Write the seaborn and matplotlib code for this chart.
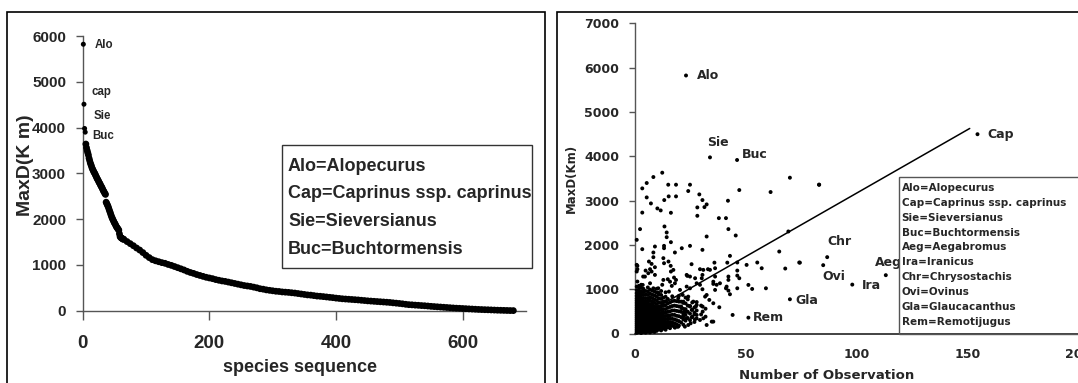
import matplotlib
matplotlib.use("Agg")
import matplotlib.pyplot as plt
from matplotlib.patches import Rectangle
import pandas as pd
import seaborn as sns

# ---------------- data: left panel (MaxD by species rank) ----------------
rank_head = [1, 2, 3, 4]
maxd_head = [5820, 4510, 3980, 3900]
# steep part, read species by species (ranks 5..64)
maxd_steep = [3640, 3560, 3500, 3450, 3400, 3330, 3280, 3230, 3190, 3150,
              3110, 3080, 3050, 3020, 3000, 2970, 2940, 2910, 2880, 2860,
              2830, 2800, 2780, 2750, 2720, 2700, 2670, 2640, 2610, 2590,
              2560, 2540, 2370, 2340, 2310, 2280, 2240, 2200, 2160, 2120,
              2080, 2040, 2010, 1980, 1950, 1920, 1900, 1870, 1840, 1820,
              1800, 1780, 1760, 1680, 1620, 1600, 1590, 1580, 1570, 1560]
rank_steep = list(range(5, 5 + len(maxd_steep)))
# MaxD read every 5th species, starting at species 65
maxd_tail = [1560, 1510, 1465, 1420, 1370, 1325, 1270, 1210, 1160,
             1115, 1090, 1070, 1050, 1035, 1010, 990, 965, 940, 915,
             890, 860, 835, 815, 790, 770, 750, 730, 715, 700,
             680, 665, 650, 640, 625, 610, 595, 580, 565, 550,
             540, 530, 515, 500, 480, 470, 455, 445, 435, 425,
             420, 410, 405, 400, 392, 385, 375, 365, 355, 345,
             340, 330, 320, 315, 308, 300, 292, 285, 275, 268,
             260, 255, 250, 245, 240, 235, 228, 222, 215, 210,
             205, 200, 195, 190, 185, 180, 172, 165, 158, 150,
             140, 132, 128, 122, 118, 112, 108, 102, 95, 90,
             85, 80, 75, 70, 65, 60, 55, 52, 48, 44,
             40, 36, 32, 28, 25, 22, 20, 17, 14, 11,
             9, 7, 5, 3, 2]
rank_tail = list(range(65, 65 + 5 * len(maxd_tail), 5))

left_names = ["Alo", "cap", "Sie", "Buc"]
left_name_rank = [1, 2, 3, 4]
left_name_maxd = [5820, 4510, 3980, 3900]
left_legend = ["Alo=Alopecurus", "Cap=Caprinus ssp. caprinus",
               "Sie=Sieversianus", "Buc=Buchtormensis"]

# ---------------- data: right panel (MaxD vs number of observations) ----------------
named_obs = [23.2, 34.0, 46.2, 154.5, 86.8, 85.0, 98.1, 113.2, 70.0, 51.3]
named_maxd = [5826, 3977, 3918, 4500, 1724, 1543, 1104, 1317, 773, 358]
named_labels = ["Alo", "Sie", "Buc", "Cap", "Chr", "Ovi", "Ira", "Aeg", "Gla", "Rem"]

sparse_points = [
    (3.5, 3277), (5.5, 3398), (8.5, 3533), (12.5, 3631), (15.2, 3360), (18.7, 3360),
    (25, 3360), (24.2, 3217), (5.5, 3073), (13.4, 3013), (15.4, 3096), (18.7, 3096),
    (7.4, 2937), (10.3, 2824), (11.8, 2779), (16.4, 2726), (3.5, 2730), (29.2, 3141),
    (30.6, 3013), (32.5, 2915), (31.5, 2854), (28.3, 2847), (28.3, 2658), (38, 2605),
    (41.2, 2605), (42.1, 2998), (47.2, 3239), (61.3, 3194), (70, 3518), (83.1, 3360),
    (2.5, 2357), (1, 2115), (3.5, 1904), (13.5, 2417), (14.5, 2281), (14.5, 2175),
    (16.4, 2062), (13.3, 1979), (13.3, 1926), (9.2, 1964), (8.5, 1829), (21.3, 1926),
    (25, 1979), (18.2, 1829), (32.5, 2190), (30.6, 1889), (42.3, 2357), (45.6, 2213),
    (43, 1753), (69.3, 2304), (65.2, 1851), (74.2, 1603), (67.9, 1467), (46.3, 1603),
    (50.5, 1549), (55.3, 1603), (57.3, 1474), (46.3, 1421), (46.3, 1308), (46.3, 1021),
    (47.2, 1248), (51.3, 1097), (53, 1006), (59.2, 1021), (42.3, 1286), (42.3, 1210),
    (41.2, 1021), (43, 886), (36.3, 1474), (36.3, 1286), (35.5, 1120), (36.3, 984),
    (38.2, 592), (44.2, 419), (35.5, 268), (33.1, 1452), (29.5, 1452), (31, 1437),
    (34, 1437), (27.3, 1248), (30.6, 1323), (25, 1286), (23.8, 1301), (25.7, 1565),
    (30.6, 999), (30.7, 607), (30.7, 494), (29.5, 305), (24.2, 192), (19.3, 155),
    (27.6, 607), (25, 622), (28, 419), (22.5, 494), (22, 381), (21.7, 871),
    (23.5, 1059), (20.5, 984), (16.8, 1075), (18.7, 1210), (17.8, 1263), (16.4, 1399),
    (15.3, 1625), (16.3, 1527), (13, 1701), (8.5, 1723), (6.5, 1625), (7.7, 1572),
    (9.2, 1497), (5, 1421), (7, 1452), (6.2, 1361), (3.9, 1286), (1.3, 1527),
    (1.3, 1452), (2, 1075), (1.3, 1173), (2.8, 893), (3.7, 1097), (13, 1210),
    (10.7, 1021), (10.7, 924), (8.5, 1021), (15.5, 946), (83.2, 3360), (74.5, 1600),
    (32.5, 870), (27, 470), (23.5, 344), (25.8, 365), (27.2, 320), (25.3, 230),
    (22.7, 155), (34.8, 268), (19.7, 155), (18.2, 132), (28, 1134), (29.5, 1100),
    (25, 1021), (41.5, 1059), (42.3, 969), (35.5, 1170), (37, 1100), (38.5, 1134),
    (15, 1225), (16, 1170), (18.2, 1134), (12.5, 1100), (7, 1134), (23.5, 1323),
    (13.3, 1587), (17.5, 1436), (7.7, 1399), (4.7, 1285), (9.2, 1323), (1, 1550),
    (1, 1400), (30.3, 1248), (36, 1600), (41.8, 1600), (19.7, 796), (22, 720),
    (24.2, 833), (26.5, 720), (28, 645), (21.2, 569), (23.5, 494), (25.8, 532),
    (31, 343), (32.5, 192), (31.8, 833), (33.7, 758), (35.5, 683),
]

cluster_points = [
    (1, 15), (1, 55), (1, 95), (1, 140), (1, 185), (1, 230), (1, 275), (1, 320), (1, 365),
    (1, 410), (1, 455), (1, 500), (1, 545), (1, 590), (1, 640), (1, 690), (1, 740),
    (1, 790), (1, 850), (1, 910), (1, 980), (1, 1060),
    (2, 30), (2, 75), (2, 120), (2, 165), (2, 210), (2, 255), (2, 300), (2, 345), (2, 390),
    (2, 435), (2, 480), (2, 525), (2, 570), (2, 620), (2, 670), (2, 720), (2, 775),
    (2, 830), (2, 900), (2, 970), (2, 1040),
    (3, 10), (3, 50), (3, 95), (3, 140), (3, 180), (3, 225), (3, 270), (3, 315), (3, 360),
    (3, 405), (3, 450), (3, 495), (3, 540), (3, 590), (3, 640), (3, 695), (3, 750),
    (3, 810), (3, 880), (3, 950), (3, 1030), (3, 1100),
    (4, 35), (4, 80), (4, 125), (4, 170), (4, 215), (4, 260), (4, 305), (4, 350), (4, 395),
    (4, 440), (4, 485), (4, 530), (4, 580), (4, 630), (4, 685), (4, 740), (4, 800),
    (4, 870), (4, 940), (4, 1010),
    (5, 20), (5, 65), (5, 110), (5, 155), (5, 200), (5, 245), (5, 290), (5, 335), (5, 380),
    (5, 425), (5, 470), (5, 515), (5, 565), (5, 615), (5, 670), (5, 730), (5, 800),
    (5, 880), (5, 960),
    (6, 40), (6, 85), (6, 130), (6, 175), (6, 220), (6, 265), (6, 310), (6, 355), (6, 400),
    (6, 445), (6, 495), (6, 545), (6, 600), (6, 660), (6, 720), (6, 790), (6, 870),
    (6, 950), (6, 1040),
    (7, 25), (7, 70), (7, 115), (7, 160), (7, 205), (7, 250), (7, 295), (7, 340), (7, 385),
    (7, 435), (7, 485), (7, 540), (7, 600), (7, 665), (7, 740), (7, 820), (7, 900), (7, 990),
    (8, 50), (8, 95), (8, 140), (8, 185), (8, 230), (8, 275), (8, 320), (8, 370), (8, 420),
    (8, 470), (8, 525), (8, 585), (8, 650), (8, 720), (8, 800), (8, 880), (8, 970),
    (9, 35), (9, 80), (9, 125), (9, 170), (9, 220), (9, 270), (9, 320), (9, 370), (9, 425),
    (9, 480), (9, 540), (9, 610), (9, 690), (9, 770), (9, 860), (9, 950),
    (10, 60), (10, 105), (10, 150), (10, 200), (10, 250), (10, 300), (10, 350), (10, 405),
    (10, 460), (10, 520), (10, 590), (10, 665), (10, 745), (10, 830), (10, 920), (10, 1010),
    (11, 90), (11, 140), (11, 190), (11, 240), (11, 295), (11, 350), (11, 410), (11, 470),
    (11, 540), (11, 615), (11, 700), (11, 790), (11, 880),
    (12, 70), (12, 120), (12, 170), (12, 225), (12, 280), (12, 340), (12, 400), (12, 465),
    (12, 535), (12, 610), (12, 690), (12, 780), (12, 870), (12, 960),
    (13, 110), (13, 165), (13, 220), (13, 280), (13, 340), (13, 405), (13, 475), (13, 550),
    (13, 630), (13, 720), (13, 810),
    (14, 85), (14, 140), (14, 200), (14, 260), (14, 325), (14, 395), (14, 470), (14, 550),
    (14, 640), (14, 730), (14, 830), (14, 930),
    (15, 140), (15, 200), (15, 265), (15, 335), (15, 410), (15, 490), (15, 580), (15, 680), (15, 780),
    (16, 120), (16, 185), (16, 255), (16, 330), (16, 410), (16, 500), (16, 600), (16, 700),
    (17, 175), (17, 250), (17, 330), (17, 420), (17, 520), (17, 620), (17, 730), (17, 840),
    (18, 150), (18, 230), (18, 320), (18, 420), (18, 520), (18, 630), (18, 740),
    (19, 210), (19, 300), (19, 400), (19, 510), (19, 620), (19, 730),
    (20, 180), (20, 280), (20, 390), (20, 500), (20, 610), (20, 720), (20, 850),
    (21, 250), (21, 370), (21, 490), (21, 610), (21, 720),
    (22, 200), (22, 320), (22, 440), (22, 560), (22, 690),
    (23, 290), (23, 420), (23, 550), (23, 680), (23, 810),
    (24, 350), (24, 490), (24, 630), (24, 770),
    (25, 300), (25, 450), (25, 610),
    (26, 380), (26, 540), (26, 700),
    (27, 260), (27, 430), (27, 590),
    (28, 340), (28, 520), (28, 710),
    (30, 430), (30, 630),
    (32, 380), (32, 560),
]

trend_obs = [1, 151]
trend_maxd = [330, 4630]

right_legend = ["Alo=Alopecurus", "Cap=Caprinus ssp. caprinus", "Sie=Sieversianus",
                "Buc=Buchtormensis", "Aeg=Aegabromus", "Ira=Iranicus",
                "Chr=Chrysostachis", "Ovi=Ovinus", "Gla=Glaucacanthus",
                "Rem=Remotijugus"]

# ---------------- styling ----------------
sns.set_style("white")
plt.rcParams["font.family"] = ["Liberation Sans", "DejaVu Sans"]
plt.rcParams["font.weight"] = "bold"
plt.rcParams["axes.labelweight"] = "bold"
LF = "Liberation Sans"
RF = "DejaVu Sans"
W, H = 1078.0, 383.0
AXC = "#555555"


def fx(px):
    return px / W


def fy(py):
    return 1 - py / H


fig = plt.figure(figsize=(W / 100, H / 100), dpi=100)

# panel frames
fig.add_artist(Rectangle((fx(7), -0.1), fx(545) - fx(7), fy(12) + 0.1,
                         transform=fig.transFigure, fill=False, ec="black", lw=1.2))
fig.add_artist(Rectangle((fx(557), -0.1), 0.6, fy(12) + 0.1,
                         transform=fig.transFigure, fill=False, ec="black", lw=1.2))

# ---------- left panel ----------
axL = fig.add_axes([fx(82.7), fy(310.7), (526.0 - 82.7) / W, (310.7 - 36.0) / H])
axL.set_facecolor("none")
dfHead = pd.DataFrame({"rank": rank_head, "maxd": maxd_head})
dfBody = pd.DataFrame({"rank": rank_steep + rank_tail, "maxd": maxd_steep + maxd_tail})
sns.scatterplot(data=dfHead, x="rank", y="maxd", ax=axL, color="black", s=13,
                linewidth=0, edgecolor="none", legend=False, clip_on=False, zorder=3)
sns.scatterplot(data=dfBody, x="rank", y="maxd", ax=axL, color="black", s=24,
                linewidth=0, edgecolor="none", legend=False, clip_on=False, zorder=3)
axL.set_xlim(0, 700)
axL.set_ylim(0, 6000)
xt = [0, 200, 400, 600]
yt = [0, 1000, 2000, 3000, 4000, 5000, 6000]
axL.set_xticks(xt)
axL.set_xticklabels([str(v) for v in xt], fontfamily=LF, fontsize=13.5, fontweight="bold")
axL.set_yticks(yt)
axL.set_yticklabels([str(v) for v in yt], fontfamily=LF, fontsize=11, fontweight="bold")
axL.tick_params(axis="x", bottom=True, direction="out", length=6.5, width=1, color=AXC, pad=10.8)
axL.tick_params(axis="y", left=True, direction="out", length=5, width=1, color=AXC, pad=7)
for s in ["top", "right"]:
    axL.spines[s].set_visible(False)
for s in ["left", "bottom"]:
    axL.spines[s].set_color(AXC)
    axL.spines[s].set_linewidth(1)
axL.set_xlabel("species sequence", fontfamily=LF, fontsize=13, fontweight="bold",
               ha="center", va="center")
axL.xaxis.set_label_coords(0.490, -0.205)
axL.set_ylabel("MaxD(K m)", fontfamily=LF, fontsize=14, fontweight="bold",
               ha="center", va="center")
axL.yaxis.set_label_coords(-0.130, 0.530)

left_offsets = [(8.4, -0.5), (5.3, 8.9), (6.3, 9.1), (4.7, -2.9)]
for name, r, m, off in zip(left_names, left_name_rank, left_name_maxd, left_offsets):
    axL.annotate(name, xy=(r, m), xytext=off, textcoords="offset points",
                 ha="left", va="center", fontfamily=LF, fontsize=8.3, fontweight="bold")

fig.add_artist(Rectangle((fx(282), fy(268)), (532 - 282) / W, (268 - 145) / H,
                         transform=fig.transFigure, fill=False, ec="#333333", lw=1))
for i, line in enumerate(left_legend):
    fig.text(fx(288), fy([166.7, 194.0, 221.7, 249.0][i]), line, ha="left", va="center",
             fontfamily=LF, fontsize=13, fontweight="bold")

# ---------- right panel ----------
axR = fig.add_axes([fx(634.5), fy(333.5), 444.0 / W, (333.5 - 23.5) / H])
axR.set_facecolor("none")
all_obs = [p[0] for p in cluster_points] + [p[0] for p in sparse_points] + named_obs
all_maxd = [p[1] for p in cluster_points] + [p[1] for p in sparse_points] + named_maxd
dfR = pd.DataFrame({"obs": all_obs, "maxd": all_maxd})
sns.scatterplot(data=dfR, x="obs", y="maxd", ax=axR, color="black", s=8,
                linewidth=0, edgecolor="none", legend=False, clip_on=False, zorder=3)
sns.lineplot(x=trend_obs, y=trend_maxd, ax=axR, color="black", linewidth=1.1, zorder=4)
axR.set_xlim(0, 200)
axR.set_ylim(0, 7000)
xt = [0, 50, 100, 150, 200]
yt = [0, 1000, 2000, 3000, 4000, 5000, 6000, 7000]
axR.set_xticks(xt)
axR.set_xticklabels([str(v) for v in xt], fontfamily=RF, fontsize=9, fontweight="bold")
axR.set_yticks(yt)
axR.set_yticklabels([str(v) for v in yt], fontfamily=RF, fontsize=9, fontweight="bold")
axR.tick_params(axis="x", bottom=True, direction="out", length=0, pad=10.4)
axR.tick_params(axis="y", left=True, direction="out", length=4.5, width=1, color=AXC, pad=6.5)
for s in ["top", "right"]:
    axR.spines[s].set_visible(False)
axR.spines["left"].set_color(AXC)
axR.spines["bottom"].set_color("#222222")
axR.spines["left"].set_linewidth(1)
axR.spines["bottom"].set_linewidth(1.2)
axR.set_xlabel("Number of Observation", fontfamily=RF, fontsize=9.5, fontweight="bold",
               ha="center", va="center")
axR.xaxis.set_label_coords(0.4336, -0.1365)
axR.set_ylabel("MaxD(Km)", fontfamily=RF, fontsize=8.5, fontweight="bold",
               ha="center", va="center")
axR.yaxis.set_label_coords(-0.1414, 0.5016)

right_offsets = [(7.7, 0), (-1.9, 10.8), (3.4, 4.3), (6.8, 0), (0.3, 11.2),
                 (-0.4, -8.2), (7.2, -0.7), (-7.7, 9.1), (3.6, -1.0), (2.9, -0.2)]
for name, o, m, off in zip(named_labels, named_obs, named_maxd, right_offsets):
    axR.annotate(name, xy=(o, m), xytext=off, textcoords="offset points",
                 ha="left", va="center", fontfamily=RF, fontsize=9, fontweight="bold",
                 zorder=6)

fig.add_artist(Rectangle((fx(899), fy(333.5)), 0.3, (333.5 - 177.3) / H,
                         transform=fig.transFigure, fill=False, ec="#555555", lw=1))
rl_y = [187.7, 202.7, 217.7, 232.7, 247.3, 262.3, 277.3, 292.3, 306.7, 321.7]
for yy, line in zip(rl_y, right_legend):
    fig.text(fx(901.7), fy(yy), line, ha="left", va="center",
             fontfamily=RF, fontsize=7.5, fontweight="bold")

fig.savefig("out.png", dpi=100)
